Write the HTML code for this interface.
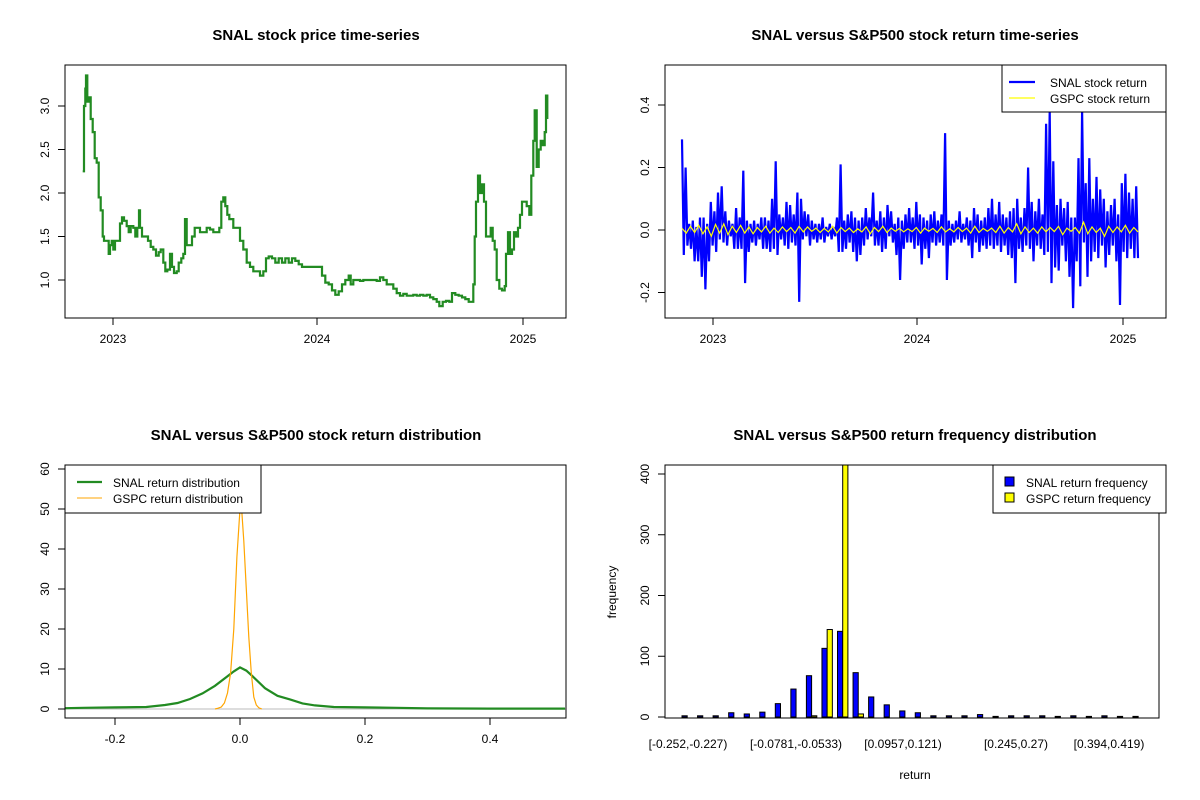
<!DOCTYPE html>
<html><head><meta charset="utf-8">
<style>
html,body{margin:0;padding:0;background:#fff;}
svg{display:block;font-family:"Liberation Sans",Arial,sans-serif;}
.t{font-weight:bold;font-size:15px;text-anchor:middle;}
.k{font-size:12px;}
</style></head>
<body>
<svg id="c" width="1200" height="800" viewBox="0 0 1200 800" xmlns="http://www.w3.org/2000/svg"></svg>
<script>
// ---------- data ----------
// price series: time index (trading-day scale) & price
const priceT = [68,72,76,78,82,88,92,98,104,110,116,122,128,132,140,146,150,155,160,165,175,180,186,192,200,206,212,220,226,232,237,240,246,256,264,272,280,288,296,302,310,316,322,330,336,342,350,356,364,370,375,380,388,396,404,412,420,430,440,450,460,470,478,484,490,496,502,508,514,520,530,540,550,560,570,580,590,600,610,618,626,636,646,656,666,676,686,696,706,716,726,736,746,756,766,776,786,796,806,816,826,836,846,856,866,872,880,890,900,910,920,930,940,950,960,970,980,990,1000,1010,1020,1030,1040,1050,1060,1070,1080,1090,1100,1110,1120,1130,1138,1148,1158,1168,1176,1186,1196,1206,1216,1226,1236,1240,1244,1248,1254,1260,1266,1272,1278,1284,1292,1298,1304,1310,1318,1326,1334,1338,1344,1350,1356,1362,1368,1374,1380,1386,1392,1400,1408,1414,1420,1424,1430,1436,1442,1448,1454,1458,1462];
const priceV = [2.25,3.0,3.2,3.35,3.05,3.1,2.85,2.7,2.4,2.35,1.95,1.8,1.5,1.45,1.45,1.3,1.4,1.45,1.35,1.45,1.45,1.65,1.72,1.68,1.62,1.55,1.62,1.6,1.5,1.6,1.8,1.6,1.5,1.5,1.45,1.38,1.35,1.28,1.32,1.35,1.2,1.1,1.12,1.3,1.15,1.08,1.1,1.2,1.25,1.3,1.7,1.4,1.4,1.5,1.6,1.6,1.55,1.55,1.6,1.58,1.55,1.55,1.6,1.9,1.95,1.85,1.75,1.7,1.7,1.6,1.6,1.45,1.35,1.2,1.15,1.1,1.1,1.05,1.1,1.25,1.27,1.25,1.2,1.25,1.2,1.25,1.2,1.25,1.22,1.18,1.15,1.15,1.15,1.15,1.15,1.15,1.05,0.97,0.95,0.88,0.83,0.87,0.95,1.0,1.05,0.95,1.0,1.0,0.99,1.0,1.0,1.0,1.0,0.99,1.03,1.0,0.95,0.95,0.9,0.85,0.82,0.84,0.82,0.82,0.83,0.82,0.83,0.82,0.83,0.8,0.78,0.75,0.7,0.75,0.76,0.75,0.85,0.83,0.82,0.8,0.78,0.75,0.75,0.95,1.5,1.9,2.2,2.0,2.1,1.9,1.5,1.5,1.6,1.45,1.35,1.0,0.9,0.88,0.93,1.3,1.55,1.3,1.35,1.55,1.5,1.6,1.75,1.9,1.9,1.85,1.75,2.2,2.6,2.95,2.3,2.5,2.6,2.55,2.7,3.12,2.85];
const yearTicks = [2023,2024,2025];
const yearT = [159,771,1389];
const priceTicks = [1.0,1.5,2.0,2.5,3.0];

const snalRet = [0.29,-0.08,0.2,-0.05,0.02,-0.06,0.03,-0.1,0.01,-0.1,0.04,-0.15,0.04,-0.19,0.02,-0.1,0.09,-0.05,0.06,-0.07,0.12,-0.03,0.14,-0.04,0.06,-0.05,0.03,-0.02,0.02,-0.06,0.07,-0.06,0.04,-0.06,0.19,-0.17,0.03,-0.07,0.02,-0.04,0.03,-0.05,0.02,-0.03,0.04,-0.06,0.04,-0.06,0.03,-0.07,0.1,-0.06,0.22,-0.08,0.05,-0.03,0.04,-0.05,0.09,-0.06,0.08,-0.04,0.05,-0.05,0.12,-0.23,0.1,-0.03,0.06,-0.02,0.05,-0.05,0.03,-0.03,0.02,-0.04,0.02,-0.03,0.04,-0.04,0.01,-0.02,0.02,-0.03,0.01,-0.02,0.04,-0.07,0.21,-0.07,0.03,-0.06,0.05,-0.04,0.06,-0.07,0.04,-0.1,0.03,-0.08,0.04,-0.05,0.07,-0.03,0.04,-0.02,0.12,-0.05,0.03,-0.05,0.06,-0.07,0.04,-0.06,0.08,-0.02,0.06,-0.04,0.02,-0.08,0.04,-0.16,0.03,-0.06,0.05,-0.04,0.07,-0.04,0.04,-0.06,0.09,-0.05,0.05,-0.11,0.04,-0.06,0.03,-0.09,0.05,-0.04,0.06,-0.05,0.03,-0.04,0.05,-0.05,0.31,-0.16,0.03,-0.05,0.02,-0.04,0.03,-0.03,0.06,-0.04,0.02,-0.03,0.04,-0.05,0.03,-0.09,0.07,-0.04,0.05,-0.07,0.03,-0.05,0.04,-0.06,0.07,-0.05,0.1,-0.06,0.05,-0.05,0.09,-0.07,0.05,-0.05,0.04,-0.08,0.06,-0.09,0.07,-0.17,0.1,-0.06,0.04,-0.07,0.07,-0.05,0.2,-0.06,0.09,-0.1,0.06,-0.05,0.1,-0.06,0.05,-0.08,0.34,-0.07,0.38,-0.17,0.22,-0.12,0.08,-0.13,0.1,-0.05,0.07,-0.1,0.09,-0.15,0.04,-0.25,0.04,-0.1,0.23,-0.18,0.38,-0.04,0.15,-0.15,0.23,-0.1,0.1,-0.07,0.17,-0.09,0.13,-0.05,0.1,-0.12,0.06,-0.08,0.08,-0.05,0.1,-0.1,0.05,-0.24,0.15,-0.07,0.18,-0.09,0.12,-0.06,0.1,-0.09,0.14,-0.09];
const gspcRet = [0.005,-0.01,0.012,-0.008,0.015,-0.012,0.01,-0.02,0.018,-0.01,0.02,-0.015,0.012,-0.008,0.015,-0.01,0.01,-0.012,0.008,-0.006,0.012,-0.01,0.006,-0.008,0.01,-0.005,0.008,-0.01,0.012,-0.006,0.01,-0.004,0.006,-0.008,0.005,-0.006,0.012,-0.01,0.008,-0.005,0.006,-0.008,0.004,-0.006,0.01,-0.012,0.008,-0.005,0.012,-0.008,0.006,-0.004,0.005,-0.006,0.004,-0.005,0.008,-0.01,0.006,-0.004,0.005,-0.008,0.01,-0.006,0.004,-0.006,0.008,-0.005,0.006,-0.01,0.012,-0.008,0.005,-0.004,0.006,-0.008,0.012,-0.01,0.008,-0.006,0.02,-0.012,0.01,-0.008,0.006,-0.01,0.01,-0.006,0.008,-0.005,0.012,-0.015,0.006,-0.004,0.008,-0.01,0.025,-0.012,0.01,-0.008,0.006,-0.02,0.012,-0.008,0.01,-0.006,0.015,-0.01,0.008,-0.006];
const retTicks = [-0.2,0.0,0.2,0.4];

const densX = [-0.28,-0.25,-0.2,-0.15,-0.12,-0.1,-0.08,-0.06,-0.04,-0.02,-0.01,0,0.01,0.02,0.04,0.06,0.08,0.1,0.12,0.15,0.2,0.25,0.3,0.4,0.52];
const snalDens = [0.2,0.3,0.4,0.5,1.0,1.5,2.5,3.9,5.8,8.2,9.4,10.4,9.6,8.2,5.2,3.3,2.4,1.4,0.9,0.5,0.4,0.3,0.15,0.1,0.1];
const gspcX = [-0.04,-0.035,-0.03,-0.025,-0.02,-0.015,-0.01,-0.005,0,0.003,0.006,0.01,0.014,0.018,0.022,0.026,0.03,0.035];
const gspcDens = [0,0.2,0.5,1.5,4,9,20,38,50,49,42,30,18,9,3,1,0.3,0];
const densTicksX = [-0.2,0.0,0.2,0.4];
const densTicksY = [0,10,20,30,40,50,60];

const histSnal = [2,2,2,7,5,8,22,46,68,113,141,73,33,20,10,7,2,2,2,4,1,2,2,2,1,2,1,2,1,1];
const histGspc = [0,0,0,0,0,0,0,0,2,144,430,5,0,0,0,0,0,0,0,0,0,0,0,0,0,0,0,0,0,0];
const histLabels = ["[-0.252,-0.227)","[-0.0781,-0.0533)","[0.0957,0.121)","[0.245,0.27)","[0.394,0.419)"];
const histLabelBins = [0,7,14,21,28];
const freqTicks = [0,100,200,300,400];

// ---------- helpers ----------
const S = document.getElementById('c');
const NS = 'http://www.w3.org/2000/svg';
function mk(tag, at, txt){const e=document.createElementNS(NS,tag);for(const k in at)e.setAttribute(k,at[k]);if(txt!=null)e.textContent=txt;S.appendChild(e);return e;}
function lin(d0,d1,r0,r1){return v=>r0+(v-d0)/(d1-d0)*(r1-r0);}
function poly(xs,ys,fx,fy){return xs.map((x,i)=>fx(x).toFixed(1)+','+fy(ys[i]).toFixed(1)).join(' ');}
function stepPts(xs,ys,fx,fy){let p=[];for(let i=0;i<xs.length;i++){if(i>0)p.push(fx(xs[i]).toFixed(1)+','+fy(ys[i-1]).toFixed(1));p.push(fx(xs[i]).toFixed(1)+','+fy(ys[i]).toFixed(1));}return p.join(' ');}
function clip(id,x,y,w,h){const d=mk('clipPath',{id:id});const r=document.createElementNS(NS,'rect');r.setAttribute('x',x);r.setAttribute('y',y);r.setAttribute('width',w);r.setAttribute('height',h);d.appendChild(r);}
function box(x0,y0,x1,y1,name){const e=mk('rect',{x:x0,y:y0,width:x1-x0,height:y1-y0,fill:'none',stroke:'#000','stroke-width':1});

}
function xtick(x,yb,label,name){const l=mk('line',{x1:x,y1:yb,x2:x,y2:yb+7,stroke:'#000'});


const t=mk('text',{x:x,y:yb+25,'text-anchor':'middle',class:'k'},label);

}
function ytick(xl,y,label,name){const l=mk('line',{x1:xl,y1:y,x2:xl-7,y2:y,stroke:'#000'});


const t=mk('text',{x:xl-16,y:y,'text-anchor':'middle',class:'k',transform:'rotate(-90 '+(xl-16)+' '+y+')'},label);

}
function title(x,y,s,name){const t=mk('text',{x:x,y:y,class:'t'},s);

}

// ---------- panel 1: price ----------
{
const fx=lin(yearT[0],yearT[1],113,317), fy=lin(1.0,3.0,280,106);
title(316,40,'SNAL stock price time-series','price-chart-title');
const p=mk('polyline',{points:stepPts(priceT,priceV,fx,fy),fill:'none',stroke:'#228B22','stroke-width':2.2});


box(65,65,566,318,'price-plot-frame');
yearTicks.forEach((y,i)=>xtick(fx(yearT[i]),318,String(y),'price-x-'+y));
priceTicks.forEach(v=>ytick(65,fy(v),v.toFixed(1),'price-y-'+v));
}
// ---------- panel 2: returns ----------
{
const n=snalRet.length, fi=lin(0,n-1,682,1138), fy=lin(0,0.4,230,105);
const fx=lin(yearT[0],yearT[1],713,917);
title(915,40,'SNAL versus S&P500 stock return time-series','return-chart-title');
clip('cp2',665,65,501,253);
const xs=snalRet.map((_,i)=>i);
const p=mk('polyline',{points:poly(xs,snalRet,fi,fy),fill:'none',stroke:'#0000FF','stroke-width':2.2,'clip-path':'url(#cp2)'});


const gi=lin(0,gspcRet.length-1,682,1138);
const g=mk('polyline',{points:poly(gspcRet.map((_,i)=>i),gspcRet,gi,fy),fill:'none',stroke:'#FFFF00','stroke-width':1.2});


box(665,65,1166,318,'return-plot-frame');
yearTicks.forEach((y,i)=>xtick(fx(yearT[i]),318,String(y),'return-x-'+y));
retTicks.forEach(v=>ytick(665,fy(v),v.toFixed(1),'return-y-'+v));
const lg=mk('rect',{x:1002,y:65,width:164,height:47,fill:'#fff',stroke:'#000'});


mk('line',{x1:1009,y1:82,x2:1035,y2:82,stroke:'#0000FF','stroke-width':2.2});
mk('line',{x1:1009,y1:98,x2:1035,y2:98,stroke:'#FFFF00','stroke-width':1.2});
const a=mk('text',{x:1050,y:87,class:'k'},'SNAL stock return');


const b=mk('text',{x:1050,y:103,class:'k'},'GSPC stock return');


}
// ---------- panel 3: density ----------
{
const fx=lin(0,0.2,240,365), fy=lin(0,10,709,669);
title(316,440,'SNAL versus S&P500 stock return distribution','density-chart-title');
clip('cp3',65,465,501,253);
const base=mk('line',{x1:65,y1:fy(0),x2:566,y2:fy(0),stroke:'#bbb'});
const p=mk('polyline',{points:poly(densX,snalDens,fx,fy),fill:'none',stroke:'#228B22','stroke-width':2.2,'clip-path':'url(#cp3)'});


const q=mk('polyline',{points:poly(gspcX,gspcDens,fx,fy),fill:'none',stroke:'#FFA500','stroke-width':1.2,'clip-path':'url(#cp3)'});


box(65,465,566,718,'density-plot-frame');
densTicksX.forEach(v=>xtick(fx(v),718,v.toFixed(1),'density-x-'+v));
densTicksY.forEach(v=>ytick(65,fy(v),String(v),'density-y-'+v));
const lg=mk('rect',{x:65,y:465,width:196,height:48,fill:'#fff',stroke:'#000'});


mk('line',{x1:77,y1:482,x2:102,y2:482,stroke:'#228B22','stroke-width':2.2});
mk('line',{x1:77,y1:498,x2:102,y2:498,stroke:'#FFA500','stroke-width':1});
const a=mk('text',{x:113,y:487,class:'k'},'SNAL return distribution');


const b=mk('text',{x:113,y:503,class:'k'},'GSPC return distribution');


}
// ---------- panel 4: histogram ----------
{
const fy=lin(0,400,717,474), gx=i=>682+15.55*i, bw=5.2;
title(915,440,'SNAL versus S&P500 return frequency distribution','histogram-chart-title');
clip('cp4',665,465,501,253);
histSnal.forEach((v,i)=>{const r=mk('rect',{x:gx(i),y:fy(v),width:bw,height:fy(0)-fy(v),fill:'#0000FF',stroke:'#000','stroke-width':1,'clip-path':'url(#cp4)'});

});
histGspc.forEach((v,i)=>{const r=mk('rect',{x:gx(i)+bw,y:fy(v),width:bw,height:fy(0)-fy(v),fill:'#FFFF00',stroke:'#000','stroke-width':1,'clip-path':'url(#cp4)'});

});
box(665,465,1159,718,'histogram-plot-frame');
freqTicks.forEach(v=>ytick(665,fy(v),String(v),'freq-y-'+v));
const lx=[688,796,903,1016,1109];
histLabels.forEach((s,k)=>{const t=mk('text',{x:lx[k],y:748,'text-anchor':'middle',class:'k'},s);

});
const xl=mk('text',{x:915,y:779,'text-anchor':'middle',class:'k'},'return');


const yl=mk('text',{x:616,y:592,'text-anchor':'middle',class:'k',transform:'rotate(-90 616 592)'},'frequency');


const lg=mk('rect',{x:993,y:465,width:173,height:48,fill:'#fff',stroke:'#000'});


mk('rect',{x:1005,y:477,width:9,height:9,fill:'#0000FF',stroke:'#000'});
mk('rect',{x:1005,y:493,width:9,height:9,fill:'#FFFF00',stroke:'#000'});
const a=mk('text',{x:1026,y:487,class:'k'},'SNAL return frequency');


const b=mk('text',{x:1026,y:503,class:'k'},'GSPC return frequency');


}
</script>
</body></html>
